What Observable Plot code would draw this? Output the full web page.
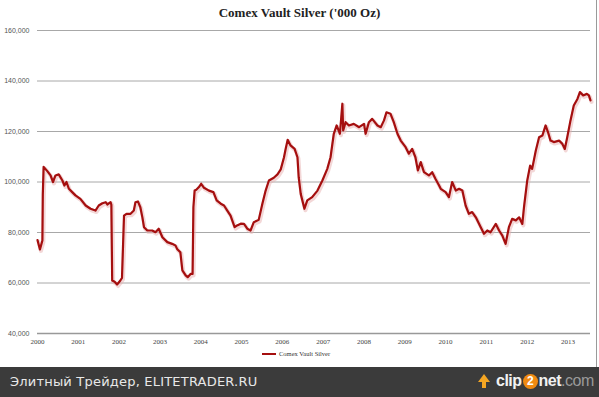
<!DOCTYPE html>
<html>
<head>
<meta charset="utf-8">
<script src="https://cdn.jsdelivr.net/npm/d3@7"></script>
<script src="https://cdn.jsdelivr.net/npm/@observablehq/plot@0.6"></script>
<style>
  html, body { margin: 0; padding: 0; background: #fff; }
  #wrap { position: relative; width: 599px; height: 397px; overflow: hidden; }
  #chart { position: absolute; left: 0; top: 0; width: 596px; height: 367px; border-right: 1px solid #9a9a9a; background: #fff; }
  #title { position: absolute; left: 0; width: 599px; top: 5px; text-align: center; font: bold 13px "Liberation Serif", serif; color: #222; }
  #legend { position: absolute; left: 262px; top: 350px; font: 6.5px "Liberation Serif", serif; color: #333; display: flex; align-items: center; }
  #legend .sw { width: 14px; height: 2px; background: #a50f0f; margin-right: 3px; }
  #bar { position: absolute; left: 0; top: 367px; width: 599px; height: 30px; background: #3b3b3b; }
  #bar .l { position: absolute; left: 10px; top: 7px; font: 13px "DejaVu Sans", sans-serif; color: #e8e8e8; letter-spacing: 0.2px; }
  #bar .r { position: absolute; left: 478px; top: 5px; font: bold 16px "Liberation Sans", Arial, sans-serif; color: #f2f2f2; letter-spacing: -0.5px; display: flex; align-items: center; }
  #bar .r .two { display: inline-block; width: 15px; height: 15px; border-radius: 50%; background: #f08a12; color: #fff; font-size: 12px; text-align: center; line-height: 15px; margin: 0 1px; }
  #bar .r .com { color: #9a9a9a; font-weight: normal; }
  #bar .r .arrow { width: 0; height: 0; border-left: 6px solid transparent; border-right: 6px solid transparent; border-bottom: 8px solid #f5a623; position: relative; margin-right: 6px; top: -3px; }
  #bar .r .arrow::after { content: ""; position: absolute; left: -2px; top: 8px; width: 4px; height: 6px; background: #f5a623; }
</style>
</head>
<body>
<div id="wrap">
  <div id="chart"></div>
  <div id="title">Comex Vault Silver ('000 Oz)</div>
  <div id="legend"><span class="sw"></span>Comex Vault Silver</div>
  <div id="bar">
    <span class="l">Элитный Трейдер, ELITETRADER.RU</span>
    <span class="r"><span class="arrow"></span>clip<span class="two">2</span>net<span class="com">.com</span></span>
  </div>
</div>
<script>
const seriesName = "Comex Vault Silver";
const years = [
  2000.00, 2000.06, 2000.12, 2000.13, 2000.15, 2000.24, 2000.32, 2000.38, 2000.44, 2000.52,
  2000.61, 2000.66, 2000.71, 2000.77, 2000.85, 2000.93, 2001.05, 2001.18, 2001.30, 2001.42,
  2001.50, 2001.59, 2001.67, 2001.71, 2001.79, 2001.81, 2001.83, 2001.89, 2001.95, 2002.03,
  2002.07, 2002.12, 2002.18, 2002.28, 2002.36, 2002.40, 2002.46, 2002.52, 2002.57, 2002.61,
  2002.69, 2002.81, 2002.89, 2002.97, 2003.06, 2003.18, 2003.30, 2003.38, 2003.42, 2003.50,
  2003.55, 2003.63, 2003.68, 2003.75, 2003.80, 2003.82, 2003.85, 2003.89, 2003.95, 2004.01,
  2004.08, 2004.20, 2004.31, 2004.39, 2004.49, 2004.57, 2004.65, 2004.73, 2004.83, 2004.89,
  2004.98, 2005.06, 2005.14, 2005.22, 2005.30, 2005.42, 2005.51, 2005.59, 2005.67, 2005.79,
  2005.88, 2005.96, 2006.04, 2006.08, 2006.13, 2006.20, 2006.30, 2006.37, 2006.40, 2006.45,
  2006.54, 2006.61, 2006.73, 2006.86, 2006.98, 2007.10, 2007.18, 2007.26, 2007.33, 2007.41,
  2007.47, 2007.49, 2007.55, 2007.63, 2007.75, 2007.88, 2008.00, 2008.04, 2008.12, 2008.20,
  2008.33, 2008.41, 2008.49, 2008.55, 2008.65, 2008.73, 2008.82, 2008.90, 2009.02, 2009.10,
  2009.18, 2009.26, 2009.32, 2009.39, 2009.47, 2009.59, 2009.67, 2009.75, 2009.84, 2009.88,
  2010.00, 2010.08, 2010.16, 2010.25, 2010.33, 2010.41, 2010.49, 2010.57, 2010.65, 2010.74,
  2010.86, 2010.94, 2011.02, 2011.10, 2011.23, 2011.31, 2011.39, 2011.47, 2011.55, 2011.63,
  2011.72, 2011.80, 2011.88, 2011.92, 2012.00, 2012.07, 2012.12, 2012.21, 2012.29, 2012.37,
  2012.45, 2012.51, 2012.57, 2012.65, 2012.78, 2012.86, 2012.92, 2012.98, 2013.06, 2013.14,
  2013.23, 2013.29, 2013.37, 2013.46, 2013.51, 2013.55
];
const silver = [
  77.0, 73.3, 76.8, 95.0, 106.0, 104.3, 102.6, 100.0, 102.6, 103.0,
  100.6, 98.6, 100.0, 97.3, 96.0, 94.7, 93.3, 90.7, 89.4, 88.7,
  90.7, 91.6, 92.0, 91.1, 92.0, 91.0, 61.0, 60.5, 59.4, 61.0,
  62.0, 86.7, 87.4, 87.4, 88.7, 92.0, 92.3, 90.0, 86.0, 82.1,
  80.8, 80.8, 80.1, 81.5, 78.1, 76.2, 75.5, 74.9, 73.5, 72.2,
  65.0, 63.0, 62.3, 63.6, 63.6, 90.0, 96.6, 96.9, 97.9, 99.3,
  97.7, 96.6, 96.0, 92.7, 91.4, 90.7, 88.7, 86.7, 82.1, 82.8,
  83.5, 83.4, 81.5, 80.8, 84.1, 85.0, 91.4, 96.6, 100.6, 101.7,
  103.0, 105.0, 109.8, 113.1, 116.7, 114.5, 113.1, 109.8, 101.9, 95.3,
  89.4, 92.7, 94.0, 96.6, 100.6, 105.2, 109.8, 119.1, 122.4, 119.1,
  131.0, 120.4, 123.7, 122.4, 123.0, 121.7, 123.0, 119.1, 123.7, 125.0,
  122.4, 121.7, 124.4, 127.6, 127.0, 123.7, 119.1, 116.4, 113.8, 111.2,
  113.1, 109.8, 104.6, 107.9, 103.9, 102.6, 103.9, 101.3, 98.6, 97.3,
  96.0, 94.0, 100.0, 96.6, 97.3, 96.6, 90.7, 87.4, 88.1, 86.0,
  82.1, 79.5, 80.8, 80.1, 83.4, 80.8, 78.8, 75.5, 82.1, 85.4,
  84.8, 86.0, 83.4, 90.0, 100.6, 106.5, 105.2, 112.5, 117.7, 118.4,
  122.4, 119.7, 116.4, 115.8, 116.4, 115.1, 113.1, 117.7, 124.4, 130.3,
  132.9, 135.6, 134.3, 134.9, 134.3, 132.3
];
const yTicks = [40000, 60000, 80000, 100000, 120000, 140000, 160000];
const xTicks = [2000, 2001, 2002, 2003, 2004, 2005, 2006, 2007, 2008, 2009, 2010, 2011, 2012, 2013];

const data = years.map((t, i) => ({year: t, value: silver[i] * 1000, series: seriesName}));

const plot = Plot.plot({
  width: 596,
  height: 367,
  marginLeft: 37,
  marginRight: 6,
  marginTop: 30,
  marginBottom: 34,
  style: {background: "transparent", overflow: "visible"},
  x: {domain: [2000, 2013.55], label: null},
  y: {domain: [40000, 160000], label: null},
  marks: [
    Plot.gridY(yTicks, {stroke: "#a8a8a8", strokeOpacity: 1, strokeWidth: 1, x1: 2000, x2: 2013.55}),
    Plot.ruleY([40000], {stroke: "#999", strokeWidth: 1.5}),
    Plot.axisY(yTicks, {tickSize: 0, tickPadding: 8, tickFormat: d3.format(","), fontSize: 7, fill: "#555", fontFamily: "Liberation Sans, sans-serif"}),
    Plot.axisX(xTicks, {tickSize: 0, tickPadding: 6, tickFormat: d3.format("d"), fontSize: 7, fill: "#444", fontFamily: "Liberation Serif, serif"}),
    Plot.line(data, {x: "year", y: "value", stroke: "#e8b0b0", strokeWidth: 4, strokeOpacity: 0.5, dx: 1, dy: 1.5}),
    Plot.line(data, {x: "year", y: "value", stroke: "#a50f0f", strokeWidth: 2.2, strokeLinejoin: "round"})
  ]
});
document.getElementById("chart").appendChild(plot);
</script>
</body>
</html>
